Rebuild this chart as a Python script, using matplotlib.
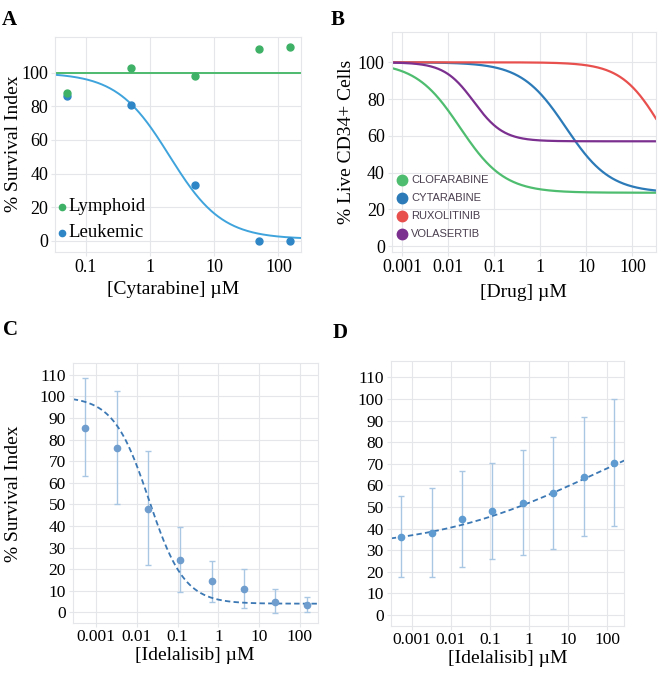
"""Four-panel dose-response figure (A-D): cytarabine, CD34+ drugs, idelalisib."""

import numpy as np
import matplotlib

matplotlib.use("Agg")
import matplotlib.pyplot as plt

plt.rcParams["font.family"] = ["Liberation Serif", "DejaVu Serif"]

# --- panel A: cytarabine, lymphoid vs leukemic
a_conc = [0.05, 0.5, 5, 50, 150]
a_lymphoid = [88, 103, 98, 114, 115]
a_leukemic = [86, 81, 33, 0, 0]
a_lymphoid_fit = 100
a_leukemic_fit = dict(bottom=1.0, top=100.0, ic50=2.0, hill=1.06)

# --- panel B: fitted curves of live CD34+ cells
b_drugs = ["CLOFARABINE", "CYTARABINE", "RUXOLITINIB", "VOLASERTIB"]
b_bottom = [29.0, 29.0, 29.0, 57.0]
b_top = [100.0, 100.0, 100.0, 100.0]
b_ic50 = [0.018, 3.6, 430.0, 0.036]
b_hill = [0.9, 0.9, 1.0, 1.35]

# --- panels C and D: idelalisib, mean with range
cd_conc = [0.00054, 0.0032, 0.019, 0.116, 0.69, 4.17, 25, 150]
c_mean = [85.5, 76, 48, 24, 14.5, 11, 5, 3.5]
c_low = [63, 50, 22, 9.5, 5, 2, -0.5, 0]
c_high = [108.5, 102.5, 74.8, 39.3, 23.6, 20.2, 10.6, 7]
c_fit = dict(bottom=4.0, top=100.0, ic50=0.02, hill=1.0)
d_mean = [36.3, 38.1, 44.4, 48.1, 52, 56.3, 64, 70.2]
d_low = [17.7, 17.7, 22, 25.8, 27.6, 30.7, 36.6, 41.2]
d_high = [55.1, 58.6, 66.8, 70.5, 76.4, 82.3, 91.8, 99.9]
d_fit = dict(bottom=30.0, top=100.0, ic50=44.0, hill=0.207)

GRID = "#e4e6ea"


def four_pl(x, bottom, top, ic50, hill):
    return bottom + (top - bottom) / (1 + (x / ic50) ** hill)


def rising_4pl(x, bottom, top, ic50, hill):
    return bottom + (top - bottom) / (1 + (ic50 / x) ** hill)


def style(ax, xticks, yticks, xlim, ylim, size=12.5):
    ax.set_xscale("log")
    ax.set_xlim(*xlim)
    ax.set_ylim(*ylim)
    ax.set_xticks(xticks)
    ax.set_xticklabels([f"{t:g}" for t in xticks])
    ax.xaxis.set_minor_locator(matplotlib.ticker.NullLocator())
    ax.set_yticks(yticks)
    ax.grid(True, color=GRID, lw=0.8)
    ax.set_axisbelow(True)
    for s in ax.spines.values():
        s.set_color(GRID)
        s.set_linewidth(0.8)
    ax.tick_params(length=3, color=GRID, labelsize=size, pad=2)


fig = plt.figure(figsize=(6.58, 6.73), dpi=100)

# A
axA = fig.add_axes([0.0836, 0.626, 0.374, 0.3195])
style(axA, [0.1, 1, 10, 100], range(0, 101, 20), (0.0328, 226), (-6.5, 121.4), 13)
xs = np.logspace(np.log10(0.0328), np.log10(226), 300)
axA.axhline(a_lymphoid_fit, color="#4cba6e", lw=1.4)
axA.plot(xs, four_pl(xs, **a_leukemic_fit), color="#3fa3dc", lw=1.4)
axA.plot(a_conc[1:], a_lymphoid[1:], "o", color="#3fb167", ms=5, zorder=3)
axA.plot(a_conc, a_leukemic, "o", color="#2f86c6", ms=5, zorder=3)
axA.plot(a_conc[:1], a_lymphoid[:1], "o", color="#3fb167", ms=5, zorder=4)
for label, color, y in [("Lymphoid", "#3fb167", 0.208), ("Leukemic", "#2f86c6", 0.087)]:
    axA.plot([0.028], [y], "o", color=color, ms=4.5, transform=axA.transAxes)
    axA.text(0.053, y, label, transform=axA.transAxes, fontsize=13.5, va="center")
axA.set_xlabel("[Cytarabine] µM", fontsize=14)
axA.set_ylabel("% Survival Index", fontsize=14)
axA.yaxis.set_label_coords(-0.134, 0.5)
axA.xaxis.set_label_coords(0.48, -0.135)

# B
axB = fig.add_axes([0.5953, 0.626, 0.4017, 0.327])
style(axB, [0.001, 0.01, 0.1, 1, 10, 100], range(0, 101, 20), (0.00059, 327), (-3.1, 116.7), 13)
xs = np.logspace(np.log10(0.00059), np.log10(327), 400)
b_colors = ["#4fbd6f", "#2c7bb8", "#e8504e", "#7b2f8f"]
for i, name in enumerate(b_drugs):
    axB.plot(xs, four_pl(xs, b_bottom[i], b_top[i], b_ic50[i], b_hill[i]),
             color=b_colors[i], lw=1.6)
for i, name in enumerate(b_drugs):
    y = 0.326 - i * 0.082
    axB.plot([0.04], [y], "o", color=b_colors[i], ms=7.5, transform=axB.transAxes,
             clip_on=False)
    axB.text(0.074, y, name, transform=axB.transAxes, fontsize=8, va="center",
             color="#4a3f4f", family="Liberation Sans")
axB.set_xlabel("[Drug] µM", fontsize=14)
axB.set_ylabel("% Live CD34+ Cells", fontsize=14)
axB.yaxis.set_label_coords(-0.138, 0.5)
axB.xaxis.set_label_coords(0.5, -0.147)

# C
axC = fig.add_axes([0.1105, 0.0738, 0.3723, 0.3863])
style(axC, [0.001, 0.01, 0.1, 1, 10, 100], range(0, 111, 10), (0.00027, 272), (-5.1, 115.3))
axC.tick_params(axis="x", pad=1)
xs = np.logspace(np.log10(0.00027), np.log10(272), 300)
cm = np.array(c_mean)
axC.errorbar(cd_conc, cm, yerr=[cm - np.array(c_low), np.array(c_high) - cm], fmt="none",
             ecolor="#a9c7e2", elinewidth=1, capsize=2.5, capthick=1)
axC.plot(xs, four_pl(xs, **c_fit), "--", color="#3b78b4", lw=1.3, dashes=(3, 1.8))
axC.plot(cd_conc, cm, "o", color="#6f9dcd", ms=4.5, zorder=3)
axC.set_xlabel("[Idelalisib] µM", fontsize=14)
axC.set_ylabel("% Survival Index", fontsize=14)
axC.yaxis.set_label_coords(-0.207, 0.5)
axC.xaxis.set_label_coords(0.5, -0.092)

# D
axD = fig.add_axes([0.5938, 0.0698, 0.355, 0.3938])
style(axD, [0.001, 0.01, 0.1, 1, 10, 100], range(0, 111, 10), (0.00029, 272), (-5.1, 117.6))
axD.tick_params(axis="x", pad=1)
xs = np.logspace(np.log10(0.00029), np.log10(272), 300)
dm = np.array(d_mean)
axD.errorbar(cd_conc, dm, yerr=[dm - np.array(d_low), np.array(d_high) - dm], fmt="none",
             ecolor="#a9c7e2", elinewidth=1, capsize=2.5, capthick=1)
axD.plot(xs, rising_4pl(xs, **d_fit), "--", color="#3b78b4", lw=1.3, dashes=(3, 1.8))
axD.plot(cd_conc, dm, "o", color="#5f9bd0", ms=4.5, zorder=3)
axD.set_xlabel("[Idelalisib] µM", fontsize=14)
axD.xaxis.set_label_coords(0.5, -0.09)

for lab, x, y in [("A", 0.003, 0.985), ("B", 0.503, 0.985), ("C", 0.004, 0.525), ("D", 0.505, 0.52)]:
    fig.text(x, y, lab, fontsize=15, fontweight="bold", va="top")

fig.savefig("out.png", dpi=100)
